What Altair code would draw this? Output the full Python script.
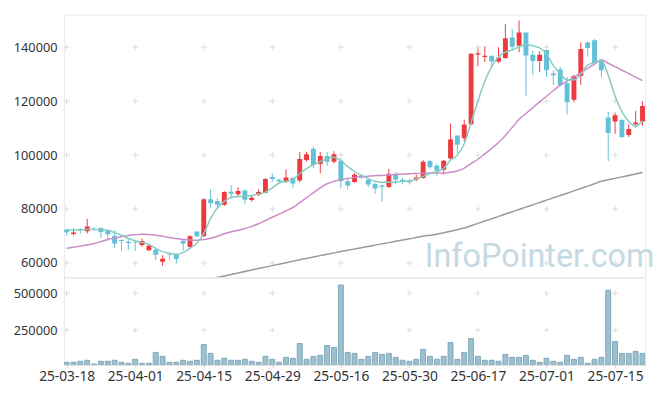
import altair as alt
import pandas as pd

# ---------------- data ----------------
tick_index = [0, 10, 20, 30, 40, 50, 60, 70, 80]
tick_labels = ["25-03-18", "25-04-01", "25-04-15", "25-04-29", "25-05-16",
               "25-05-30", "25-06-17", "25-07-01", "25-07-15"]

price_ticks = [60000, 80000, 100000, 120000, 140000]
volume_ticks = [250000, 500000]

open_ = [72450, 70770, 72370, 71750, 72730, 72950, 71930, 70040, 68580, 67850,
         67640, 66660, 64730, 64950, 60500, 63150, 63020, 68220, 65930, 71640,
         69930, 83640, 83020, 81560, 86400, 85460, 86910, 83380, 85300, 86060,
         91860, 90910, 90300, 91500, 90550, 98180, 102400, 96730, 99640, 97580,
         97940, 90300, 90040, 92480, 90910, 89310, 88730, 88220, 93090, 90910,
         90550, 90910, 91500, 97820, 96110, 94550, 98770, 107270, 106300, 111490,
         137310, 136360, 136840, 134760, 136000, 143640, 140580, 145450, 137200, 134910,
         139020, 130290, 131750, 126650, 120580, 129310, 141820, 142650, 135130, 113930,
         112470, 113090, 107490, 111490, 112470]
high = [72800, 72840, 72950, 76370, 73320, 73100, 72300, 72110, 68580, 69090,
        68470, 69090, 66900, 65450, 62900, 63400, 63640, 68300, 70290, 71640,
        84000, 87270, 84000, 86660, 88840, 88110, 87270, 85200, 87270, 91490,
        93310, 91280, 94770, 91860, 101200, 101200, 103270, 101200, 101200, 101450,
        98770, 91130, 93310, 92950, 91500, 89680, 89100, 94910, 93680, 91500,
        91270, 92730, 98180, 98180, 96840, 98180, 111750, 107270, 113090, 137800,
        140220, 140360, 136840, 140000, 148730, 146650, 149930, 145450, 138760, 138550,
        139020, 131490, 132730, 129090, 129670, 141820, 142180, 143000, 135130, 116000,
        115750, 113090, 111490, 116360, 120000]
low = [70100, 70190, 70910, 70910, 71870, 69200, 68300, 65450, 64470, 64840,
       64470, 66040, 64470, 61000, 58900, 61100, 59750, 64600, 65450, 69460,
       69700, 80580, 80360, 81200, 84220, 84840, 81820, 82760, 84840, 85820,
       89930, 89700, 89700, 87860, 89930, 97580, 95130, 93310, 96000, 96950,
       87640, 87270, 89700, 91270, 88110, 85680, 82770, 87860, 89310, 89100,
       89100, 90300, 91270, 95020, 92370, 92730, 98180, 100590, 105090, 111270,
       132950, 134550, 132730, 134180, 135750, 138760, 138180, 122040, 129670, 130910,
       128840, 126040, 125450, 115130, 119640, 126040, 136580, 134180, 128840, 97820,
       107850, 106650, 106650, 110290, 110910]
close = [71360, 71280, 72120, 73570, 72480, 71500, 70660, 67270, 68110, 67380,
         67380, 68110, 66400, 63020, 61560, 62930, 61460, 67270, 69930, 69930,
         83640, 82180, 81560, 86290, 85670, 86660, 83500, 84220, 86300, 91130,
         91130, 90180, 91750, 89460, 98550, 100360, 96370, 99640, 97570, 100360,
         90300, 88730, 92730, 91750, 89100, 87640, 88220, 93090, 90910, 90300,
         89930, 91750, 97570, 95500, 94290, 97940, 105820, 103860, 111390, 137560,
         137820, 136840, 134760, 136220, 143380, 140220, 145450, 136950, 134910, 137200,
         131490, 129670, 126040, 119640, 129310, 139380, 139750, 134180, 131490, 108220,
         114760, 106650, 109670, 112110, 118180]
volume = [32120, 32120, 38800, 45490, 20760, 38800, 38800, 45490, 32120, 25440,
          52170, 25440, 25440, 98970, 72230, 32120, 32120, 45490, 38800, 45490,
          152440, 92280, 45490, 58860, 45490, 45490, 52170, 38800, 32120, 72230,
          52170, 32120, 65540, 58860, 159130, 52170, 72230, 78910, 145760, 132390,
          555530, 98970, 92280, 52170, 72230, 98970, 85600, 92280, 65540, 45490,
          38800, 52170, 119020, 72230, 52170, 72230, 165810, 52170, 98970, 192550,
          72230, 45490, 45490, 38800, 85600, 65540, 65540, 78910, 45490, 32120,
          58860, 38800, 32120, 78910, 52170, 65540, 25440, 52170, 65540, 520100,
          172500, 92280, 92280, 105650, 92280]
ma5 = [72360, 72220, 72290, 72470, 72470, 72360, 72110, 71270, 70290, 69090,
       68220, 67640, 66910, 65450, 64220, 63640, 63270, 63850, 65450, 67380,
       70910, 76470, 80470, 82840, 84290, 84650, 84840, 85020, 85560, 86290,
       87860, 89670, 90290, 90840, 93200, 95020, 96470, 97560, 98650, 99200,
       97930, 95750, 93930, 92470, 91270, 90290, 89930, 89930, 90040, 90290,
       90290, 91130, 92110, 93200, 93930, 95130, 98180, 100000, 104220, 112110,
       120110, 127380, 132840, 136360, 138180, 139020, 140220, 140950, 140580, 139750,
       137560, 133200, 130290, 127850, 127930, 129930, 133380, 134290, 135130, 129670,
       121930, 116110, 112470, 110650, 112730]
ma20 = [65450, 65850, 66250, 66650, 67200, 67930, 68730, 69270, 69750, 70180,
        70470, 70650, 70550, 70290, 69930, 69450, 69090, 68730, 68550, 68470,
        68730, 69200, 69930, 70840, 71560, 72110, 72730, 73560, 74550, 75750,
        76950, 78110, 79380, 80580, 82400, 84220, 86040, 87860, 89380, 90290,
        90910, 91380, 91750, 92000, 92180, 92360, 92470, 92660, 92840, 92950,
        93090, 93200, 93310, 93380, 93380, 93310, 93640, 94110, 95200, 96840,
        98470, 100470, 102470, 104660, 107270, 110290, 113310, 115460, 117600, 119750,
        121860, 123960, 125930, 127420, 128950, 130550, 132150, 133750, 135380, 134070,
        132800, 131490, 130220, 128910, 127640]
ma_long_start = 21
ma_long = [54110, 54650, 55200, 55750, 56290, 56840, 57380, 57930, 58470, 59020,
           59560, 60110, 60650, 61200, 61710, 62220, 62730, 63240, 63750, 64250,
           64730, 65200, 65670, 66150, 66620, 67090, 67560, 68040, 68510, 68980,
           69450, 69930, 70290, 70650, 71200, 71750, 72330, 72950, 73820, 74690,
           75560, 76400, 77270, 78150, 79020, 79850, 80730, 81560, 82440, 83310,
           84180, 85020, 85890, 86760, 87640, 88510, 89380, 90290, 90840, 91380,
           91930, 92470, 93020, 93560]

# ---------------- styling ----------------
RED = "#ec3a3f"
BLUE = "#62c0d8"
TEAL = "#86cbc2"
PINK = "#cc8cc8"
GRAY = "#9a9a9a"
VOL_FILL = "#9dc0cf"
VOL_STROKE = "#7ea7b9"
CROSS = "#dcdcdc"
FONT = "Noto Sans"

n = len(close)
df = pd.DataFrame({"i": list(range(n)), "open": open_, "high": high, "low": low,
                   "close": close, "volume": volume, "ma5": ma5, "ma20": ma20})
df_long = pd.DataFrame({"i": list(range(ma_long_start, ma_long_start + len(ma_long))),
                        "ma": ma_long})

x_scale = alt.Scale(domain=[-0.4, n - 1 + 0.4], nice=False, zero=False, padding=0)
p_scale = alt.Scale(domain=[54650, 152100], nice=False, zero=False, padding=0)
v_scale = alt.Scale(domain=[16000, 607000], nice=False, zero=False, padding=0)

W, H_TOP, H_VOL = 593, 268, 89

p_axis = alt.Axis(values=price_ticks, format="d", title=None, domain=False, ticks=False,
                  grid=False, labelPadding=7, minExtent=50, maxExtent=50)
v_axis = alt.Axis(values=volume_ticks, format="d", title=None, domain=False, ticks=False,
                  grid=False, labelPadding=7, minExtent=50, maxExtent=50)

labels_js = "[" + ",".join("'%s'" % s for s in tick_labels) + "]"
idx_js = "[" + ",".join(str(v) for v in tick_index) + "]"
x_axis = alt.Axis(values=tick_index, labelExpr=f"{labels_js}[indexof({idx_js}, datum.value)]",
                  title=None, grid=False, ticks=True, tickSize=3, tickColor="#d0d0d0",
                  domain=True, domainColor="#d5d5d5", labelPadding=2, labelFontSize=14)

up_down = alt.condition("datum.close >= datum.open", alt.value(RED), alt.value(BLUE))

X_TOP = alt.X("i:Q", scale=x_scale, axis=None)
X_VOL = alt.X("i:Q", scale=x_scale, axis=x_axis)


def PY(field):
    return alt.Y(field, scale=p_scale, axis=p_axis)


def VY(field):
    return alt.Y(field, scale=v_scale, axis=v_axis)


# grid crosses
cross_top = pd.DataFrame([(xi, yv) for xi in tick_index for yv in price_ticks], columns=["i", "v"])
cross_vol = pd.DataFrame([(xi, yv) for xi in tick_index for yv in volume_ticks],
                         columns=["i", "v"])


def crosses(data, xenc, yfun):
    h = alt.Chart(data).mark_rule(color=CROSS, strokeWidth=1, xOffset=-3, x2Offset=3, clip=True).encode(
        x=xenc, x2="i:Q", y=yfun("v:Q"))
    v = alt.Chart(data).mark_rule(color=CROSS, strokeWidth=1, yOffset=-3, y2Offset=3, clip=True).encode(
        x=xenc, y=yfun("v:Q"), y2="v:Q")
    return [h, v]


base = alt.Chart(df)

watermark = alt.Chart(pd.DataFrame({"t": ["InfoPointer.com"]})).mark_text(
    font="Roboto", fontSize=33, color="#c5d9e3", align="left", baseline="alphabetic"
).encode(text="t:N", x=alt.value(368), y=alt.value(257))

wicks = base.mark_rule(strokeWidth=1, clip=True).encode(
    x=X_TOP, y=PY("low:Q"), y2="high:Q", color=up_down)
bodies = base.mark_bar(size=5, clip=True).encode(
    x=X_TOP, y=PY("open:Q"), y2="close:Q", color=up_down)

line_long = alt.Chart(df_long).mark_line(color=GRAY, strokeWidth=1.5, interpolate="monotone", clip=True).encode(
    x=X_TOP, y=PY("ma:Q"))
line20 = base.mark_line(color=PINK, strokeWidth=1.5, interpolate="monotone", clip=True).encode(
    x=X_TOP, y=PY("ma20:Q"))
line5 = base.mark_line(color=TEAL, strokeWidth=1.5, interpolate="monotone", clip=True).encode(
    x=X_TOP, y=PY("ma5:Q"))

top = alt.layer(wicks, *crosses(cross_top, X_TOP, PY), watermark, bodies,
                line_long, line20, line5).properties(width=W, height=H_TOP)

vol_bars = base.mark_bar(size=5, color=VOL_FILL, stroke=VOL_STROKE, strokeWidth=1, clip=True).encode(
    x=X_VOL, y=VY("volume:Q"), y2=alt.datum(16000))

bottom = alt.layer(*crosses(cross_vol, X_VOL, VY), vol_bars).properties(width=W, height=H_VOL)

chart = alt.vconcat(top, bottom, spacing=0, bounds="flush").properties(
    padding={"left": 4, "top": 2, "right": 2, "bottom": 0},
    background="white"
).configure_view(
    stroke="#e6e6e6", strokeWidth=1
).configure_axis(
    labelFont=FONT, labelFontSize=13, labelColor="#333333"
)

chart.save("out.html", embed_options={"renderer": "svg", "actions": False})
